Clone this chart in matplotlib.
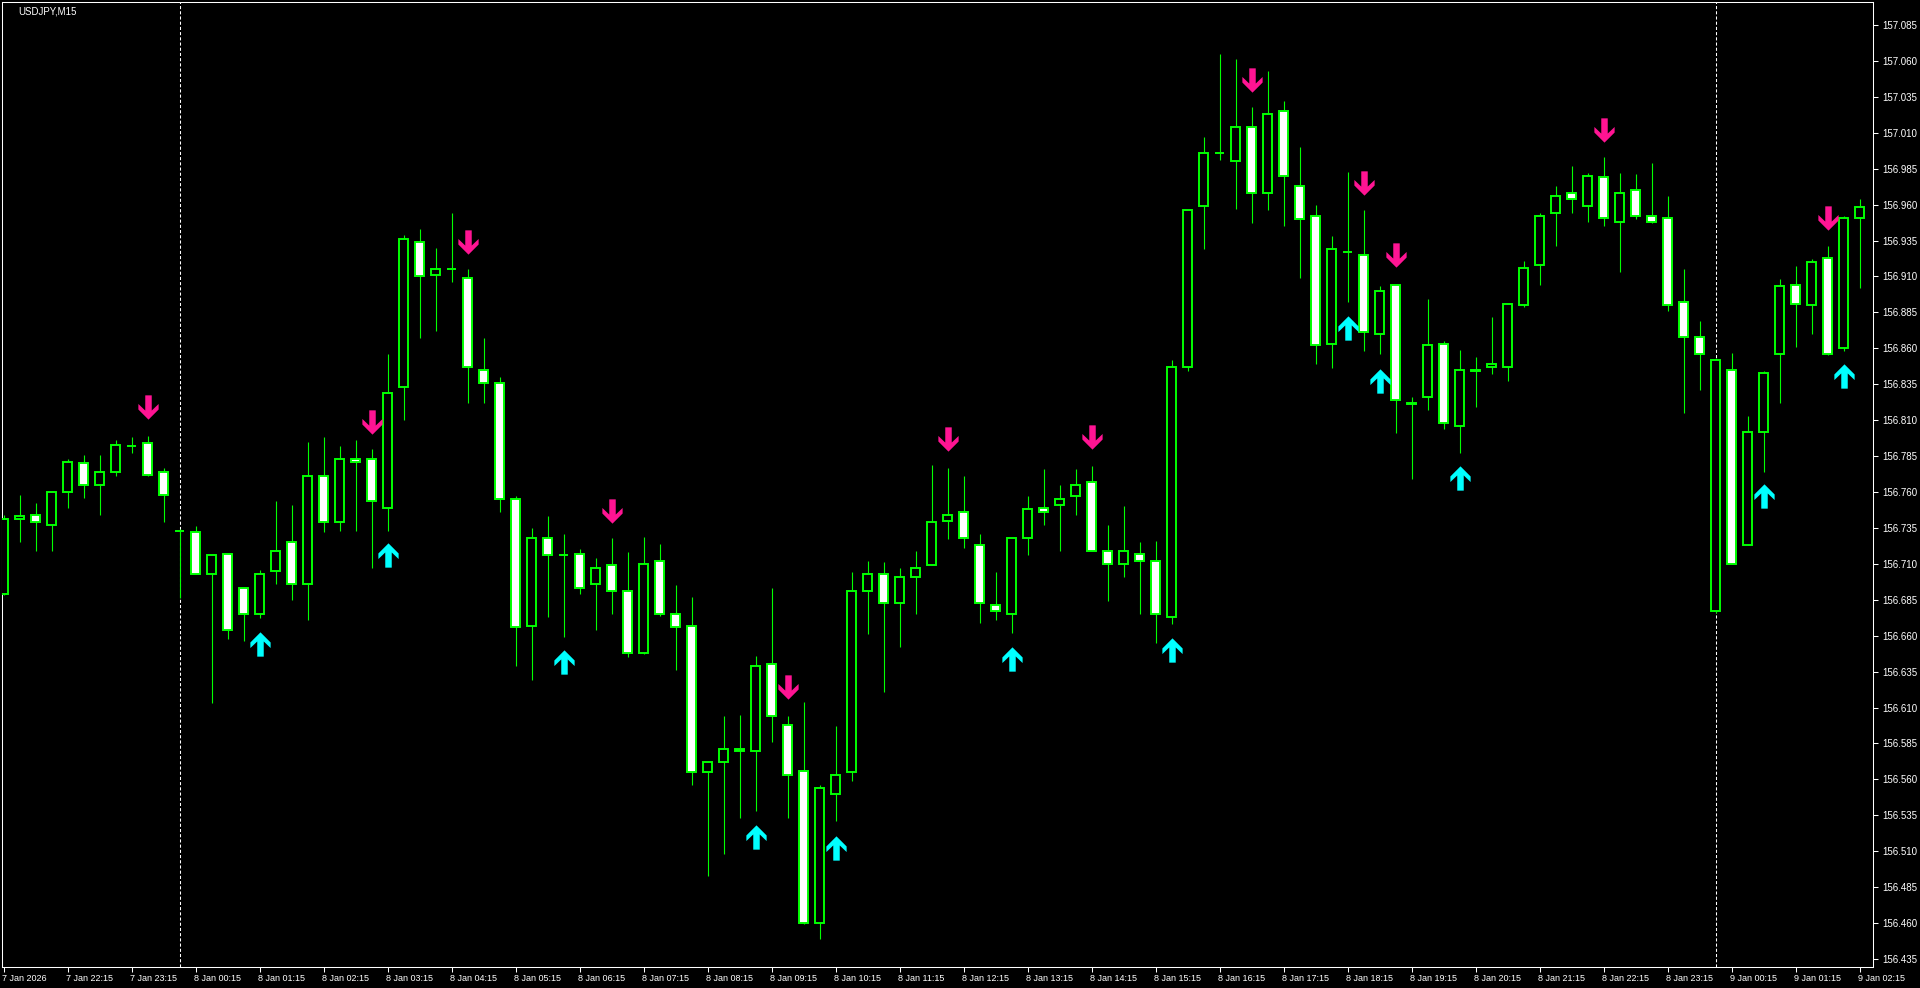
import numpy as np
import matplotlib
matplotlib.use("Agg")
import matplotlib.pyplot as plt
import matplotlib.transforms as mtransforms
from matplotlib.path import Path
from datetime import datetime, timedelta

symbol = "USDJPY,M15"
start_time = datetime(2026, 1, 7, 21, 15)

# OHLC of the 117 M15 bars shown
opens = [156.689, 156.741, 156.744, 156.737, 156.760, 156.780, 156.765, 156.774, 156.792, 156.794,
         156.774, 156.733, 156.732, 156.703, 156.717, 156.693, 156.675, 156.705, 156.725, 156.696,
         156.771, 156.739, 156.783, 156.783, 156.749, 156.833, 156.934, 156.911, 156.915, 156.909,
         156.845, 156.836, 156.755, 156.667, 156.728, 156.716, 156.717, 156.696, 156.709, 156.691,
         156.648, 156.712, 156.675, 156.667, 156.565, 156.572, 156.581, 156.580, 156.640, 156.598,
         156.566, 156.460, 156.550, 156.565, 156.691, 156.703, 156.683, 156.701, 156.709, 156.740,
         156.746, 156.723, 156.681, 156.675, 156.728, 156.749, 156.751, 156.757, 156.767, 156.719,
         156.710, 156.717, 156.712, 156.673, 156.847, 156.959, 156.996, 156.990, 157.014, 156.968,
         157.025, 156.973, 156.952, 156.863, 156.927, 156.925, 156.870, 156.904, 156.822, 156.826,
         156.863, 156.806, 156.844, 156.847, 156.847, 156.890, 156.918, 156.954, 156.968, 156.959,
         156.979, 156.948, 156.970, 156.952, 156.951, 156.892, 156.868, 156.677, 156.845, 156.723,
         156.802, 156.856, 156.904, 156.890, 156.923, 156.860, 156.951]
highs = [156.744, 156.758, 156.752, 156.761, 156.783, 156.786, 156.786, 156.796, 156.798, 156.799,
         156.777, 156.734, 156.736, 156.716, 156.717, 156.694, 156.706, 156.754, 156.751, 156.795,
         156.798, 156.792, 156.796, 156.790, 156.856, 156.939, 156.943, 156.930, 156.954, 156.915,
         156.867, 156.840, 156.757, 156.735, 156.743, 156.731, 156.720, 156.714, 156.728, 156.718,
         156.729, 156.724, 156.695, 156.687, 156.573, 156.604, 156.605, 156.646, 156.693, 156.604,
         156.614, 156.556, 156.597, 156.704, 156.712, 156.711, 156.707, 156.719, 156.779, 156.777,
         156.771, 156.731, 156.704, 156.728, 156.757, 156.776, 156.765, 156.776, 156.778, 156.737,
         156.750, 156.725, 156.726, 156.852, 156.956, 157.007, 157.065, 157.061, 157.028, 157.053,
         157.032, 157.000, 156.960, 156.938, 156.983, 156.956, 156.903, 156.905, 156.826, 156.894,
         156.865, 156.859, 156.854, 156.882, 156.891, 156.921, 156.954, 156.973, 156.987, 156.982,
         156.993, 156.982, 156.981, 156.989, 156.966, 156.915, 156.879, 156.853, 156.857, 156.813,
         156.844, 156.908, 156.917, 156.922, 156.931, 156.952, 156.964]
lows = [156.688, 156.725, 156.719, 156.719, 156.749, 156.756, 156.744, 156.771, 156.787, 156.771,
        156.739, 156.686, 156.703, 156.613, 156.658, 156.656, 156.672, 156.696, 156.685, 156.671,
        156.732, 156.733, 156.733, 156.707, 156.733, 156.810, 156.867, 156.872, 156.906, 156.822,
        156.822, 156.746, 156.639, 156.629, 156.673, 156.659, 156.689, 156.664, 156.675, 156.645,
        156.647, 156.674, 156.636, 156.556, 156.493, 156.508, 156.533, 156.538, 156.586, 156.533,
        156.459, 156.449, 156.531, 156.559, 156.661, 156.621, 156.652, 156.675, 156.709, 156.727,
        156.721, 156.669, 156.671, 156.662, 156.716, 156.737, 156.719, 156.744, 156.719, 156.684,
        156.701, 156.675, 156.655, 156.668, 156.844, 156.929, 156.991, 156.957, 156.947, 156.956,
        156.945, 156.909, 156.849, 156.846, 156.892, 156.858, 156.856, 156.801, 156.769, 156.817,
        156.804, 156.787, 156.819, 156.842, 156.837, 156.889, 156.904, 156.931, 156.954, 156.948,
        156.945, 156.913, 156.950, 156.947, 156.886, 156.815, 156.831, 156.676, 156.710, 156.723,
        156.774, 156.822, 156.861, 156.870, 156.855, 156.858, 156.902]
closes = [156.741, 156.743, 156.739, 156.760, 156.781, 156.765, 156.774, 156.793, 156.792, 156.772,
          156.758, 156.733, 156.703, 156.716, 156.664, 156.675, 156.703, 156.719, 156.696, 156.771,
          156.739, 156.783, 156.781, 156.754, 156.829, 156.936, 156.910, 156.915, 156.915, 156.847,
          156.836, 156.755, 156.666, 156.728, 156.716, 156.716, 156.693, 156.707, 156.691, 156.648,
          156.710, 156.675, 156.666, 156.565, 156.572, 156.581, 156.580, 156.639, 156.604, 156.563,
          156.460, 156.554, 156.563, 156.691, 156.703, 156.683, 156.701, 156.707, 156.739, 156.744,
          156.728, 156.683, 156.677, 156.728, 156.748, 156.746, 156.755, 156.765, 156.719, 156.710,
          156.719, 156.712, 156.675, 156.847, 156.956, 156.996, 156.996, 157.014, 156.968, 157.023,
          156.980, 156.950, 156.862, 156.929, 156.927, 156.871, 156.900, 156.824, 156.821, 156.862,
          156.808, 156.845, 156.845, 156.849, 156.891, 156.916, 156.952, 156.966, 156.964, 156.980,
          156.951, 156.968, 156.952, 156.948, 156.890, 156.868, 156.856, 156.852, 156.710, 156.802,
          156.843, 156.903, 156.891, 156.920, 156.856, 156.951, 156.958]

# indicator arrows: bar index and price level
sell_bars = [9, 23, 29, 38, 49, 59, 68, 78, 85, 87, 100, 114]
sell_levels = [156.819, 156.809, 156.934, 156.747, 156.624, 156.797, 156.798, 157.047,
               156.975, 156.925, 157.012, 156.951]
buy_bars = [16, 24, 35, 47, 52, 63, 73, 84, 86, 91, 110, 115]
buy_levels = [156.654, 156.716, 156.642, 156.520, 156.512, 156.644, 156.650, 156.874,
              156.837, 156.770, 156.757, 156.841]

# day separators (8 Jan 00:00 and 9 Jan 00:00)
separator_bars = [11, 107]

price_ticks = np.round(np.arange(156.435, 157.0851, 0.025), 3)

GREEN = "#00ff00"

n = len(opens)
x = np.arange(n)
o = np.array(opens)
c = np.array(closes)

fig = plt.figure(figsize=(19.2, 9.88), dpi=100, facecolor="black")
ax = fig.add_axes([2 / 1920, 21 / 988, 1871 / 1920, 965 / 988], facecolor="black")

for b in separator_bars:
    ax.axvline(b, color="white", lw=0.75, linestyle=(0, (3, 2)), zorder=1)

# wicks then bodies
ax.vlines(x, lows, highs, colors=GREEN, lw=0.8, zorder=2)
body_bottom = np.minimum(o, c)
body_height = np.abs(c - o)
fill = ["black" if cc >= oo else "white" for oo, cc in zip(o, c)]
ax.bar(x, body_height, bottom=body_bottom, width=0.56, color=fill,
       edgecolor=GREEN, linewidth=1.4, zorder=3)

# arrow markers (chevron head on a thick shaft)
up_verts = np.array([(0, 12), (10, 2), (10, -3.5), (3.2, 3), (3.2, -12),
                     (-3.2, -12), (-3.2, 3), (-10, -3.5), (-10, 2), (0, 12)]) / 24.0
up_marker = Path(up_verts, closed=True)
down_marker = Path(up_verts * np.array([1, -1]), closed=True)
ax.plot(buy_bars, buy_levels, linestyle="none", marker=up_marker, markersize=17.5,
        color="#00ffff", markeredgewidth=0, zorder=4)
ax.plot(sell_bars, sell_levels, linestyle="none", marker=down_marker, markersize=17.5,
        color="#ff1493", markeredgewidth=0, zorder=4)

ax.set_xlim(-0.1, 116.84)
ax.set_ylim(156.4294, 157.101)

for s in ax.spines.values():
    s.set_color("white")
    s.set_linewidth(0.75)

ax.yaxis.tick_right()
ax.set_yticks(price_ticks)
ax.set_yticklabels([f"{p:.3f}" for p in price_ticks])

xt = list(range(0, n, 4))
labels = []
for k in xt:
    t = start_time + timedelta(minutes=15 * k)
    if k == 0:
        labels.append(f"{t.day} {t:%b} {t.year}")
    else:
        labels.append(f"{t.day} {t:%b} {t:%H:%M}")
ax.set_xticks(xt)
ax.set_xticklabels(labels)

ax.tick_params(axis="both", colors="white", labelcolor="white", direction="out",
               length=3.5, width=0.75)
ax.tick_params(axis="x", pad=1.5, labelsize=6.5)
ax.tick_params(axis="y", pad=3, labelsize=7)

# time labels start just left of their tick, like the terminal does
shift = mtransforms.ScaledTranslation(-2 / 100, 0, fig.dpi_scale_trans)
for lbl in ax.get_xticklabels():
    lbl.set_horizontalalignment("left")
    lbl.set_transform(lbl.get_transform() + shift)
for lbl in ax.get_xticklabels() + ax.get_yticklabels():
    lbl.set_fontfamily("Liberation Sans")

fig.text(18 / 1920, 1 - 11 / 988, symbol, color="white", fontsize=7,
         family="Liberation Sans", ha="left", va="center")

fig.savefig("out.png", dpi=100, facecolor="black")
